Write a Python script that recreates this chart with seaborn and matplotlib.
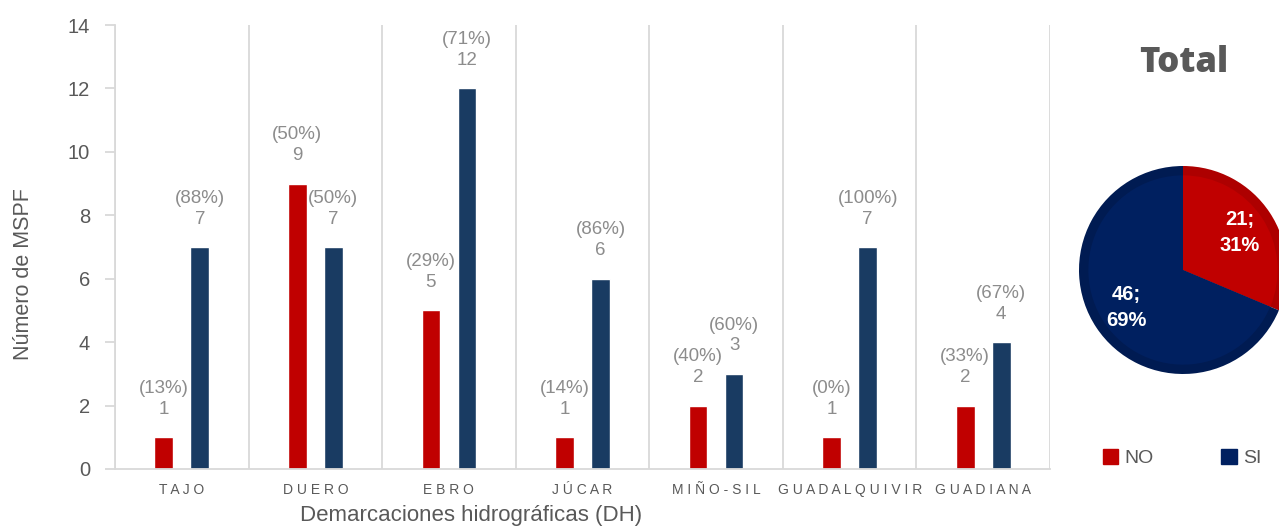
import matplotlib
matplotlib.use("Agg")
import matplotlib.pyplot as plt
from matplotlib.patches import Patch
import numpy as np
import pandas as pd
import seaborn as sns

# ------------------------------------------------
# Data
# ------------------------------------------------

demarcaciones = ["TAJO", "DUERO", "EBRO", "JÚCAR", "MIÑO-SIL", "GUADALQUIVIR", "GUADIANA"]
n_no = [1, 9, 5, 1, 2, 1, 2]
n_si = [7, 7, 12, 6, 3, 7, 4]
pct_no = ["13%", "50%", "29%", "14%", "40%", "0%", "33%"]
pct_si = ["88%", "50%", "71%", "86%", "60%", "100%", "67%"]

total_labels = ["NO", "SI"]
total_values = [21, 46]

RED = "#C00000"
BAR_BLUE = "#193B62"
PIE_BLUE = "#002060"
TXT = "#595959"
LBL = "#8C8C8C"
GRID = "#D9D9D9"


def spaced(s):
    return " ".join(s)


def main():
    df = pd.DataFrame({
        "dh": demarcaciones * 2,
        "n": n_no + n_si,
        "resp": ["NO"] * len(n_no) + ["SI"] * len(n_si),
    })

    sns.set_theme(style="white")
    plt.rcParams["font.family"] = ["Liberation Sans", "DejaVu Sans"]

    fig = plt.figure(figsize=(12.79, 5.26), dpi=100)
    ax = fig.add_axes([115 / 1279, 57 / 526, 935 / 1279, 444 / 526])

    # ------------------------------------------------
    # Bars
    # ------------------------------------------------

    sns.barplot(
        data=df, x="dh", y="n", hue="resp",
        hue_order=["NO", "SI"],
        palette={"NO": RED, "SI": BAR_BLUE},
        width=0.54, gap=0.48, saturation=1,
        legend=False, ax=ax,
    )

    for cont, vals, pcts in zip(ax.containers, [n_no, n_si], [pct_no, pct_si]):
        labels = [f"({p})\n{v}" for p, v in zip(pcts, vals)]
        ax.bar_label(cont, labels=labels, padding=14, color=LBL,
                     fontsize=13.5, linespacing=1.3)

    ax.set_ylim(0, 14)
    ax.set_xlim(-0.5, 6.5)
    ax.set_yticks(np.arange(0, 15, 2))
    ax.set_xticks(range(len(demarcaciones)))
    ax.set_xticklabels([spaced(d) for d in demarcaciones], fontsize=10, color=TXT)
    ax.set_xticks(np.arange(-0.5, 7, 1), minor=True)
    ax.grid(which="minor", axis="x", color=GRID, lw=1.3)
    ax.grid(which="major", axis="y", visible=False)
    ax.set_axisbelow(True)

    ax.tick_params(axis="x", which="both", length=0, pad=10)
    ax.tick_params(axis="y", length=7, width=1.3, color=GRID, pad=11,
                   labelsize=14.5, labelcolor=TXT, left=True)

    for side in ["top", "right"]:
        ax.spines[side].set_visible(False)
    for side in ["left", "bottom"]:
        ax.spines[side].set_color(GRID)
        ax.spines[side].set_linewidth(1.3)

    ax.set_ylabel("Número de MSPF", fontsize=15.5, color=TXT)
    ax.yaxis.set_label_coords(-0.087, 0.44)
    ax.set_xlabel("Demarcaciones hidrográficas (DH)", fontsize=16, color=TXT)
    ax.xaxis.label.set_verticalalignment("center")
    ax.xaxis.set_label_coords(0.381, -0.104)

    # ------------------------------------------------
    # Pie (Total)
    # ------------------------------------------------

    pax = fig.add_axes([1079 / 1279, 152 / 526, 208 / 1279, 208 / 526])
    total = sum(total_values)

    # darker rim, then the main wedges on top (bevel look)
    pax.pie(total_values, colors=["#AD0000", "#001B52"], startangle=90,
            counterclock=False, radius=1.0,
            wedgeprops=dict(linewidth=0, edgecolor="none"))
    pax.pie(
        total_values, colors=[RED, PIE_BLUE], startangle=90,
        counterclock=False, radius=0.91,
        wedgeprops=dict(linewidth=0, edgecolor="none"),
        autopct=lambda p: f"{round(p * total / 100)};\n{p:.0f}%",
        pctdistance=0.72,
        textprops=dict(color="white", fontsize=14.5, fontweight="bold",
                       linespacing=1.45),
    )
    pax.set_aspect("equal")
    pax.set_xlim(-1, 1)
    pax.set_ylim(-1, 1)

    fig.text(1184 / 1279, 1 - 63 / 526, "Total", fontsize=25, fontweight="heavy",
             color=TXT, ha="center", va="center", family="Open Sans")

    handles = [Patch(color=RED), Patch(color=PIE_BLUE)]
    fig.legend(handles, total_labels, loc="center",
               bbox_to_anchor=(1182 / 1279, 1 - 458 / 526), ncol=2,
               frameon=False, handlelength=0.8, handleheight=0.8,
               handletextpad=0.3, columnspacing=3.5, fontsize=14,
               labelcolor=TXT)

    fig.savefig("out.png", dpi=100)


if __name__ == "__main__":
    main()
